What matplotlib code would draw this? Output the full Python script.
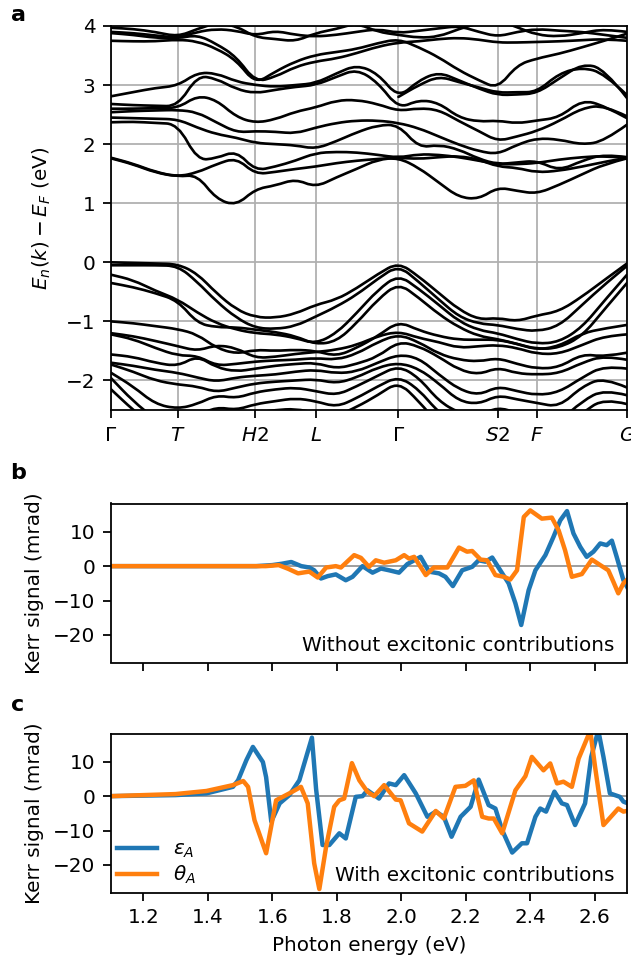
import numpy as np
import matplotlib
matplotlib.use("Agg")
import matplotlib.pyplot as plt
from matplotlib.path import Path
from matplotlib.patches import PathPatch

plt.rcParams['font.family'] = ['DejaVu Sans']
plt.rcParams['font.size'] = 9

# ---------------- Panel a: band structure ----------------
kpath_ticks = [0.0, 0.667, 1.44, 2.04, 2.867, 3.857, 4.247, 5.147]
kpath_labels = [r'$\Gamma$', r'$T$', r'$H2$', r'$L$', r'$\Gamma$', r'$S2$', r'$F$', r'$G$']
k_nodes = [0.0, 0.22, 0.44, 0.667, 0.86, 1.05, 1.25, 1.44, 1.64, 1.84, 2.04, 2.25, 2.45,
           2.66, 2.867, 3.07, 3.27, 3.47, 3.67, 3.857, 4.05, 4.247, 4.47, 4.70, 4.92, 5.147]
nan = float('nan')

CB1 = [1.76, 1.66, 1.52, 1.45, 1.48, 1.07, 0.96, 1.24, 1.30, 1.41, 1.27, 1.44, 1.58, 1.74, 1.77,
       1.60, 1.35, 1.10, 1.07, 1.27, 1.21, 1.16, 1.31, 1.49, 1.66, 1.76]
CB2 = [1.77, 1.67, 1.53, 1.45, 1.52, 1.66, 1.77, 1.49, 1.53, 1.58, 1.62, 1.68, 1.72, 1.75, 1.77,
       1.75, 1.78, 1.80, 1.74, 1.62, 1.60, 1.52, 1.55, 1.62, 1.70, 1.77]
CB3 = [2.37, 2.38, 2.36, 2.34, 1.73, 1.76, 1.89, 1.55, 1.62, 1.72, 1.85, 1.87, 1.86, 1.82, 1.77,
       1.83, 1.82, 1.78, 1.72, 1.66, 1.66, 1.68, 1.74, 1.78, 1.80, 1.77]
CB4 = [2.45, 2.44, 2.43, 2.42, 2.28, 2.17, 2.11, 2.02, 2.00, 1.98, 1.92, 2.05, 2.20, 2.32, 2.33,
       1.94, 1.99, 1.91, 1.75, 1.66, 1.69, 1.72, 1.55, 1.72, 1.83, 1.78]
CB5 = [2.54, 2.56, 2.57, 2.58, 2.54, 2.37, 2.20, 2.22, 2.21, 2.18, 2.28, 2.36, 2.40, 2.40, 2.36,
       2.27, 2.13, 1.99, 1.88, 1.83, 1.99, 2.10, 2.08, 1.99, 2.05, 2.33]
CB6 = [2.60, 2.60, 2.61, 2.61, 2.82, 2.75, 2.46, 2.36, 2.42, 2.55, 2.62, 2.74, 2.75, 2.68, 2.56,
       2.61, 2.58, 2.39, 2.22, 2.05, 2.13, 2.22, 2.39, 2.61, 2.66, 2.47]
CB7 = [2.68, 2.66, 2.65, 2.64, 3.16, 3.11, 2.93, 2.86, 2.92, 2.97, 3.00, 3.14, 3.27, 3.05, 2.60,
       2.75, 2.70, 2.45, 2.38, 2.40, 2.35, 2.40, 2.45, 2.75, 2.65, 2.44]
CB8 = [2.81, 2.88, 2.95, 2.99, 3.21, 3.20, 3.06, 3.00, 2.97, 3.00, 3.03, 3.20, 3.34, 3.20, 2.78,
       3.08, 3.22, 3.08, 2.94, 2.83, 2.84, 2.86, 3.11, 3.36, 3.28, 2.78]
CB9 = [nan, nan, nan, nan, nan, nan, nan, nan, nan, nan, nan, nan, nan, nan, 2.80,
       3.00, 3.15, 3.05, 2.96, 2.87, 2.88, 2.88, 3.20, 3.30, 3.20, 2.83]
TB1 = [3.75, 3.74, 3.74, 3.77, 3.74, 3.62, 3.42, 3.02, 3.23, 3.40, 3.51, 3.56, 3.61, 3.71, 3.78,
       3.64, 3.47, 3.25, 3.08, 2.94, 3.34, 3.45, 3.53, 3.64, 3.75, 3.87]
TB2 = [3.88, 3.85, 3.80, 3.79, 3.85, 3.70, 3.48, 3.05, 3.14, 3.31, 3.40, 3.45, 3.54, 3.65, 3.72,
       3.74, 3.78, 3.80, 3.77, 3.72, 3.72, 3.73, 3.74, 3.76, 3.78, 3.75]
TB3 = [3.90, 3.88, 3.84, 3.80, 3.90, 3.95, 3.92, 3.84, 3.92, 3.85, 3.82, 3.85, 3.90, 3.95, 3.88,
       3.92, 3.96, 4.00, 3.90, 3.82, 3.90, 3.95, 3.92, 3.90, 3.85, 3.80]
TB4 = [3.97, 3.95, 3.90, 3.82, 3.95, 4.05, 4.00, 3.81, 3.78, 3.74, 3.88, 3.95, 4.05, 3.90, 3.85,
       3.80, 3.82, 3.95, 4.05, 4.10, 3.98, 3.85, 3.82, 3.88, 3.95, 3.90]

VB1 = [0.00, -0.01, -0.02, -0.03, -0.19, -0.52, -0.80, -0.93, -0.94, -0.87, -0.72, -0.63, -0.44, -0.20, 0.00,
       -0.24, -0.52, -0.80, -0.97, -0.94, -1.00, -0.90, -0.83, -0.58, -0.30, -0.02]
VB2 = [-0.05, -0.05, -0.05, -0.06, -0.33, -0.66, -0.94, -1.11, -1.13, -1.08, -0.92, -0.75, -0.55, -0.28, -0.05,
       -0.33, -0.63, -0.92, -1.04, -1.06, -1.13, -1.17, -1.08, -0.72, -0.38, -0.06]
VB3 = [-0.21, -0.30, -0.48, -0.63, -0.85, -1.03, -1.14, -1.20, -1.22, -1.28, -1.38, -1.20, -0.86, -0.47, -0.21,
       -0.45, -0.72, -1.00, -1.15, -1.20, -1.30, -1.38, -1.35, -1.10, -0.65, -0.21]
VB4 = [-0.35, -0.42, -0.52, -0.65, -1.03, -1.10, -1.10, -1.14, -1.18, -1.25, -1.39, -1.34, -1.03, -0.63, -0.35,
       -0.60, -0.88, -1.10, -1.25, -1.30, -1.38, -1.47, -1.45, -1.25, -0.80, -0.35]
VB5 = [-1.00, -1.03, -1.08, -1.13, -1.22, -1.45, -1.55, -1.48, -1.50, -1.48, -1.50, -1.59, -1.45, -1.25, -1.00,
       -1.15, -1.25, -1.31, -1.31, -1.31, -1.38, -1.48, -1.42, -1.20, -1.12, -1.06]
VB6 = [-1.20, -1.25, -1.33, -1.42, -1.50, -1.40, -1.45, -1.62, -1.60, -1.55, -1.52, -1.48, -1.40, -1.25, -1.17,
       -1.28, -1.35, -1.45, -1.42, -1.40, -1.45, -1.55, -1.55, -1.40, -1.25, -1.22]
VB7 = [-1.22, -1.30, -1.45, -1.58, -1.58, -1.75, -1.72, -1.68, -1.66, -1.65, -1.62, -1.65, -1.55, -1.35, -1.22,
       -1.35, -1.55, -1.65, -1.68, -1.62, -1.72, -1.80, -1.78, -1.55, -1.60, -1.53]
VB8 = [-1.56, -1.60, -1.70, -1.76, -1.58, -1.78, -1.85, -1.80, -1.75, -1.72, -1.70, -1.80, -1.72, -1.60, -1.34,
       -1.42, -1.60, -1.82, -1.90, -1.78, -1.88, -1.90, -1.88, -1.70, -1.58, -1.65]
VB9 = [-1.70, -1.75, -1.82, -1.87, -1.95, -2.02, -1.95, -1.92, -1.90, -1.85, -1.82, -1.88, -1.85, -1.70, -1.56,
       -1.62, -1.90, -2.15, -2.25, -2.10, -2.18, -2.25, -2.20, -1.95, -1.75, -1.80]
VB10 = [-1.73, -1.85, -2.00, -2.07, -2.10, -2.20, -2.12, -2.05, -2.02, -2.00, -1.98, -2.05, -1.95, -1.78, -1.70,
        -1.80, -2.05, -2.35, -2.40, -2.25, -2.32, -2.38, -2.45, -2.10, -1.95, -2.12]
VB11 = [-1.87, -2.10, -2.40, -2.48, -2.40, -2.25, -2.30, -2.20, -2.15, -2.12, -2.18, -2.25, -2.10, -1.92, -1.75,
        -1.95, -2.35, -2.55, -2.60, -2.45, -2.55, -2.60, -2.70, -2.35, -2.15, -2.25]
VB12 = [-1.96, -2.35, -2.65, -2.70, -2.60, -2.45, -2.50, -2.40, -2.35, -2.30, -2.35, -2.45, -2.30, -2.10, -1.93,
        -2.15, -2.55, -2.75, -2.80, -2.65, -2.75, -2.80, -2.85, -2.55, -2.30, -2.40]
VB13 = [-2.15, -2.50, -2.80, -2.90, -2.80, -2.65, -2.60, -2.55, -2.50, -2.48, -2.55, -2.60, -2.45, -2.25, -2.02,
        -2.35, -2.75, -2.95, -3.00, -2.85, -2.95, -3.00, -2.90, -2.70, -2.50, -2.55]

bands = [CB1, CB2, CB3, CB4, CB5, CB6, CB7, CB8, CB9, TB1, TB2, TB3, TB4,
         VB1, VB2, VB3, VB4, VB5, VB6, VB7, VB8, VB9, VB10, VB11, VB12, VB13]

# ---------------- Panel b: Kerr signal without excitons ----------------
b_eps_E = [1.10, 1.40, 1.55, 1.60, 1.63, 1.659, 1.69, 1.715, 1.730, 1.751, 1.772, 1.797, 1.828, 1.849,
           1.880, 1.911, 1.937, 1.962, 1.993, 2.019, 2.060, 2.086, 2.117, 2.137, 2.160, 2.189, 2.220,
           2.240, 2.261, 2.282, 2.307, 2.333, 2.354, 2.372, 2.395, 2.416, 2.447, 2.472, 2.493, 2.514,
           2.534, 2.555, 2.575, 2.596, 2.617, 2.637, 2.653, 2.668, 2.689, 2.70]
b_eps_val = [0.0, 0.0, 0.0, 0.3, 0.7, 1.2, 0.0, -0.4, -1.2, -3.6, -2.9, -2.4, -4.1, -3.1,
             0.0, -1.9, -0.7, -1.2, -1.9, 0.6, 2.7, -1.6, -2.1, -3.1, -5.8, -1.2, -0.2,
             1.7, 1.3, 2.5, -1.2, -5.0, -10.8, -17.1, -7.0, -1.2, 3.2, 8.5, 13.3, 16.0,
             9.5, 5.6, 2.7, 4.2, 6.6, 6.1, 7.4, 2.7, -4.1, -6.0]
b_theta_E = [1.10, 1.50, 1.58, 1.62, 1.65, 1.68, 1.70, 1.715, 1.741, 1.767, 1.797, 1.813, 1.854, 1.875,
             1.900, 1.921, 1.947, 1.983, 2.009, 2.024, 2.040, 2.076, 2.101, 2.143, 2.179, 2.204, 2.220,
             2.246, 2.266, 2.292, 2.318, 2.338, 2.359, 2.380, 2.400, 2.436, 2.467, 2.488, 2.508, 2.529,
             2.560, 2.591, 2.617, 2.642, 2.658, 2.673, 2.689, 2.70]
b_theta_val = [0.0, 0.0, 0.0, 0.3, -0.8, -2.1, -1.8, -1.6, -3.3, -0.4, 0.0, -0.4, 3.2, 2.4,
               -0.2, 1.7, 1.0, 1.7, 3.2, 2.2, 2.7, -2.6, -0.4, -0.4, 5.4, 4.2, 4.4,
               1.9, 1.7, -2.6, -3.1, -3.9, -1.2, 14.3, 16.2, 13.8, 14.1, 10.4, 4.6, -3.1,
               -2.3, 1.9, 0.3, -1.2, -4.6, -7.9, -5.0, -4.0]

# ---------------- Panel c: Kerr signal with excitons ----------------
c_eps_E = [1.10, 1.30, 1.396, 1.478, 1.494, 1.520, 1.540, 1.571, 1.581, 1.597, 1.623, 1.653, 1.684,
           1.723, 1.736, 1.756, 1.777, 1.808, 1.828, 1.859, 1.880, 1.895, 1.931, 1.962, 1.983, 2.009,
           2.045, 2.081, 2.107, 2.132, 2.156, 2.184, 2.215, 2.240, 2.271, 2.292, 2.313, 2.344, 2.374,
           2.390, 2.416, 2.431, 2.449, 2.475, 2.498, 2.514, 2.539, 2.570, 2.589, 2.611, 2.627, 2.647,
           2.678, 2.689, 2.70]
c_eps_val = [0.0, 0.3, 0.8, 2.7, 4.6, 10.5, 14.3, 9.9, 5.5, -7.4, -2.1, 0.3, 4.6,
             17.0, 2.0, -14.2, -14.2, -10.8, -12.3, -0.2, 0.0, 1.7, -0.7, 3.7, 3.2, 6.1,
             0.8, -6.0, -4.5, -6.0, -11.8, -6.0, -3.1, 4.8, -2.6, -3.6, -9.9, -16.4, -13.7,
             -13.7, -6.0, -3.6, -4.5, 1.3, -2.1, -2.6, -8.4, -2.1, 11.4, 19.1, 11.4, 0.8,
             -0.2, -1.6, -2.0]
c_theta_E = [1.10, 1.30, 1.396, 1.478, 1.510, 1.525, 1.545, 1.581, 1.612, 1.653, 1.689, 1.710,
             1.730, 1.746, 1.767, 1.792, 1.808, 1.823, 1.847, 1.870, 1.895, 1.916, 1.947, 1.983,
             1.998, 2.024, 2.065, 2.107, 2.132, 2.168, 2.199, 2.225, 2.251, 2.271, 2.287, 2.313,
             2.354, 2.385, 2.405, 2.441, 2.462, 2.483, 2.503, 2.529, 2.550, 2.586, 2.601, 2.627,
             2.673, 2.689, 2.70]
c_theta_val = [0.0, 0.6, 1.5, 3.2, 4.4, 2.7, -7.0, -16.6, -1.2, 0.8, 2.7, -2.1,
               -19.5, -27.0, -14.7, -3.1, -1.2, -0.7, 9.6, 4.6, 1.3, 0.0, 3.2, -1.0,
               -1.2, -7.9, -10.3, -4.3, -6.5, 2.7, 3.0, 4.6, -6.0, -6.5, -6.5, -10.8,
               1.7, 5.8, 11.4, 7.5, 9.5, 3.7, 4.2, 2.7, 10.9, 19.0, 8.5, -8.4,
               -3.6, -4.5, -4.3]

kerr_ticks = [1.2, 1.4, 1.6, 1.8, 2.0, 2.2, 2.4, 2.6]
kerr_ticklabels = ['1.2', '1.4', '1.6', '1.8', '2.0', '2.2', '2.4', '2.6']


def smooth_band(ax, xs, ys, **kw):
    """Draw a band as a smooth quadratic-Bezier path through its read-off nodes."""
    pts = [(x, y) for x, y in zip(xs, ys) if not np.isnan(y)]
    verts = [pts[0]]
    codes = [Path.MOVETO]
    if len(pts) > 2:
        m = ((pts[0][0] + pts[1][0]) / 2, (pts[0][1] + pts[1][1]) / 2)
        verts.append(m); codes.append(Path.LINETO)
        for i in range(1, len(pts) - 1):
            nxt = pts[i + 1] if i == len(pts) - 2 else ((pts[i][0] + pts[i + 1][0]) / 2,
                                                        (pts[i][1] + pts[i + 1][1]) / 2)
            verts += [pts[i], nxt]
            codes += [Path.CURVE3, Path.CURVE3]
    else:
        verts += pts[1:]
        codes += [Path.LINETO] * (len(pts) - 1)
    ax.add_patch(PathPatch(Path(verts, codes), fill=False, **kw))


# ---------------- Figure ----------------
fig = plt.figure(figsize=(631 / 160, 960 / 160), dpi=160)
W, H = 631.0, 960.0


def rect(l, t, r, b):
    return [l / W, 1 - b / H, (r - l) / W, (b - t) / H]


ax_a = fig.add_axes(rect(111, 26, 627, 410))
ax_b = fig.add_axes(rect(111, 503.5, 627, 662.5))
ax_c = fig.add_axes(rect(111, 733.5, 627, 892.5))

for band in bands:
    smooth_band(ax_a, k_nodes, band, edgecolor='black', lw=1.2, capstyle='round', joinstyle='round')
ax_a.set_xlim(kpath_ticks[0], kpath_ticks[-1])
ax_a.set_ylim(-2.5, 4)
ax_a.set_xticks(kpath_ticks)
ax_a.set_xticklabels(kpath_labels)
ax_a.set_yticks([-2, -1, 0, 1, 2, 3, 4])
ax_a.grid(True, color='#b0b0b0', lw=0.8)
ax_a.set_axisbelow(True)
ax_a.set_ylabel(r'$E_n(k) - E_F$ (eV)', labelpad=6)

ax_b.axhline(0, color='#a0a0a0', lw=0.9, zorder=1)
ax_b.plot(b_eps_E, b_eps_val, color='C0', lw=2.0, label=r'$\varepsilon_A$')
ax_b.plot(b_theta_E, b_theta_val, color='C1', lw=2.0, label=r'$\theta_A$')
ax_b.text(0.975, 0.05, 'Without excitonic contributions', transform=ax_b.transAxes,
          ha='right', va='bottom')

ax_c.axhline(0, color='#808080', lw=0.7, zorder=1)
ax_c.plot(c_eps_E, c_eps_val, color='C0', lw=2.0, label=r'$\varepsilon_A$')
ax_c.plot(c_theta_E, c_theta_val, color='C1', lw=2.0, label=r'$\theta_A$')
ax_c.text(0.975, 0.05, 'With excitonic contributions', transform=ax_c.transAxes,
          ha='right', va='bottom')
ax_c.legend(loc='lower left', frameon=False, borderaxespad=0.0, borderpad=0.3,
            labelspacing=0.2, handlelength=2.0)

for ax in (ax_b, ax_c):
    ax.set_xlim(1.1, 2.7)
    ax.set_ylim(-28, 18.2)
    ax.set_xticks(kerr_ticks)
    ax.set_yticks([-20, -10, 0, 10])
    ax.set_ylabel('Kerr signal (mrad)')
ax_b.tick_params(labelbottom=False)
ax_c.set_xticklabels(kerr_ticklabels)
ax_c.set_xlabel('Photon energy (eV)')

fig.text(18 / W, 1 - 15 / H, 'a', fontsize=10, fontweight='bold', ha='center', va='center')
fig.text(18 / W, 1 - 473 / H, 'b', fontsize=10, fontweight='bold', ha='center', va='center')
fig.text(18 / W, 1 - 705 / H, 'c', fontsize=10, fontweight='bold', ha='center', va='center')

fig.savefig('out.png', dpi=160)
